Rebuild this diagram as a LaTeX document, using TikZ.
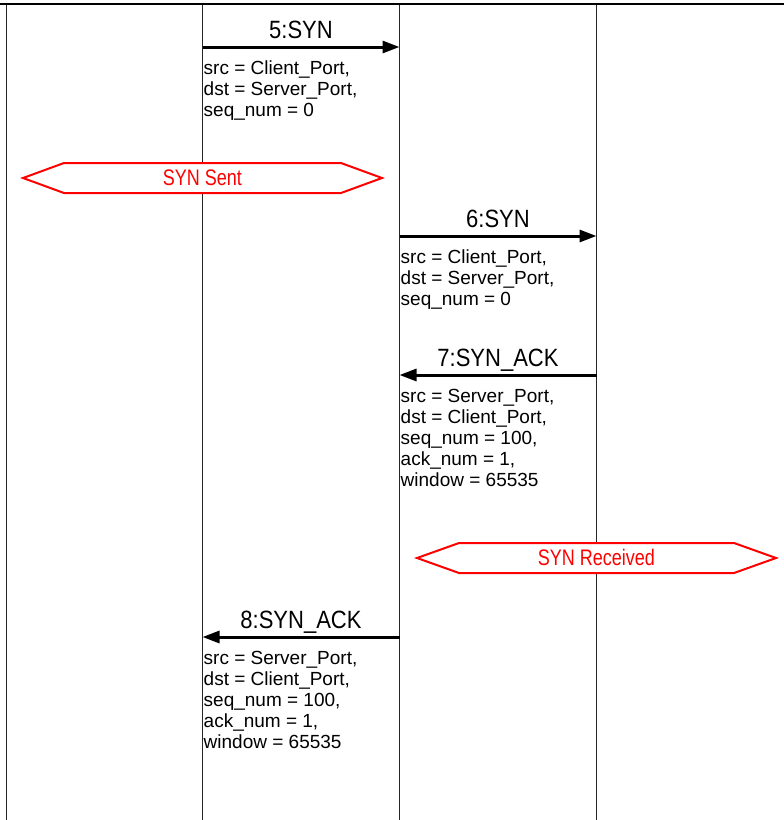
\documentclass[tikz,border=0pt]{standalone}
\usepackage{fontspec}
\setmainfont{Liberation Sans}
\newfontfamily\narrowfont[FakeStretch=0.8]{Liberation Sans}
\newfontfamily\ttlfontfam[FakeStretch=0.88]{Liberation Sans}
\usetikzlibrary{arrows.meta,calc}
\begin{document}
\begin{tikzpicture}[x=1pt,y=-1pt,
  life/.style={line width=1pt,black!85},
  frame/.style={line width=2.5pt,black},
  msg/.style={line width=3pt,-{Triangle[length=17pt,width=12pt]}},
  ttl/.style={font=\ttlfontfam\fontsize{25}{28}\selectfont,inner sep=0,anchor=base},
  body/.style={font=\fontsize{19}{21}\selectfont,inner sep=0,anchor=north west,align=left},
  statebox/.style={draw=red,line width=2pt,fill=white,line join=miter},
  statetxt/.style={text=red,font=\narrowfont\fontsize{22.5}{24}\selectfont,inner sep=0}]
\useasboundingbox (0,0) rectangle (784,820);
% frame top
\coordinate (fl) at (0,4);
\coordinate (fr) at (784,4);
\draw[frame] (fl) -- (fr);
% lifelines
\foreach \n/\x in {A/6,B/202.5,C/399.5,D/596.5}{
  \coordinate (\n top) at (\x,5);
  \coordinate (\n bot) at (\x,820);
  \draw[life] (\n top) -- (\n bot);
}
% message 5
\coordinate (m5s) at (202.5,47);
\coordinate (m5e) at (399.5,47);
\draw[msg] (m5s) -- (m5e);
\node[ttl] (t5) at ($(m5s)!0.5!(m5e)+(0,-9)$) {5:SYN};
\node[body] (b5) at ($(m5s)+(1,14)$) {src = Client\_Port,\\dst = Server\_Port,\\seq\_num = 0};
% state SYN Sent
\draw[statebox] (23,178) -- (64,163) -- (341,163) -- (382,178) -- (341,193) -- (64,193) -- cycle;
\node[statetxt] (s1) at (202.5,177.5) {SYN Sent};
% message 6
\coordinate (m6s) at (399.5,236);
\coordinate (m6e) at (596.5,236);
\draw[msg] (m6s) -- (m6e);
\node[ttl] (t6) at ($(m6s)!0.5!(m6e)+(0,-9)$) {6:SYN};
\node[body] (b6) at ($(m6s)+(1,14)$) {src = Client\_Port,\\dst = Server\_Port,\\seq\_num = 0};
% message 7
\coordinate (m7s) at (596.5,375);
\coordinate (m7e) at (399.5,375);
\draw[msg] (m7s) -- (m7e);
\node[ttl] (t7) at ($(m7s)!0.5!(m7e)+(0,-9)$) {7:SYN\_ACK};
\node[body] (b7) at ($(m7e)+(1,14)$) {src = Server\_Port,\\dst = Client\_Port,\\seq\_num = 100,\\ack\_num = 1,\\window = 65535};
% state SYN Received
\draw[statebox] (417,558) -- (459,543) -- (734,543) -- (776,558) -- (734,573) -- (459,573) -- cycle;
\node[statetxt] (s2) at (596.5,557.5) {SYN Received};
% message 8
\coordinate (m8s) at (399.5,637);
\coordinate (m8e) at (202.5,637);
\draw[msg] (m8s) -- (m8e);
\node[ttl] (t8) at ($(m8s)!0.5!(m8e)+(0,-9)$) {8:SYN\_ACK};
\node[body] (b8) at ($(m8e)+(1,14)$) {src = Server\_Port,\\dst = Client\_Port,\\seq\_num = 100,\\ack\_num = 1,\\window = 65535};
\end{tikzpicture}
\end{document}
